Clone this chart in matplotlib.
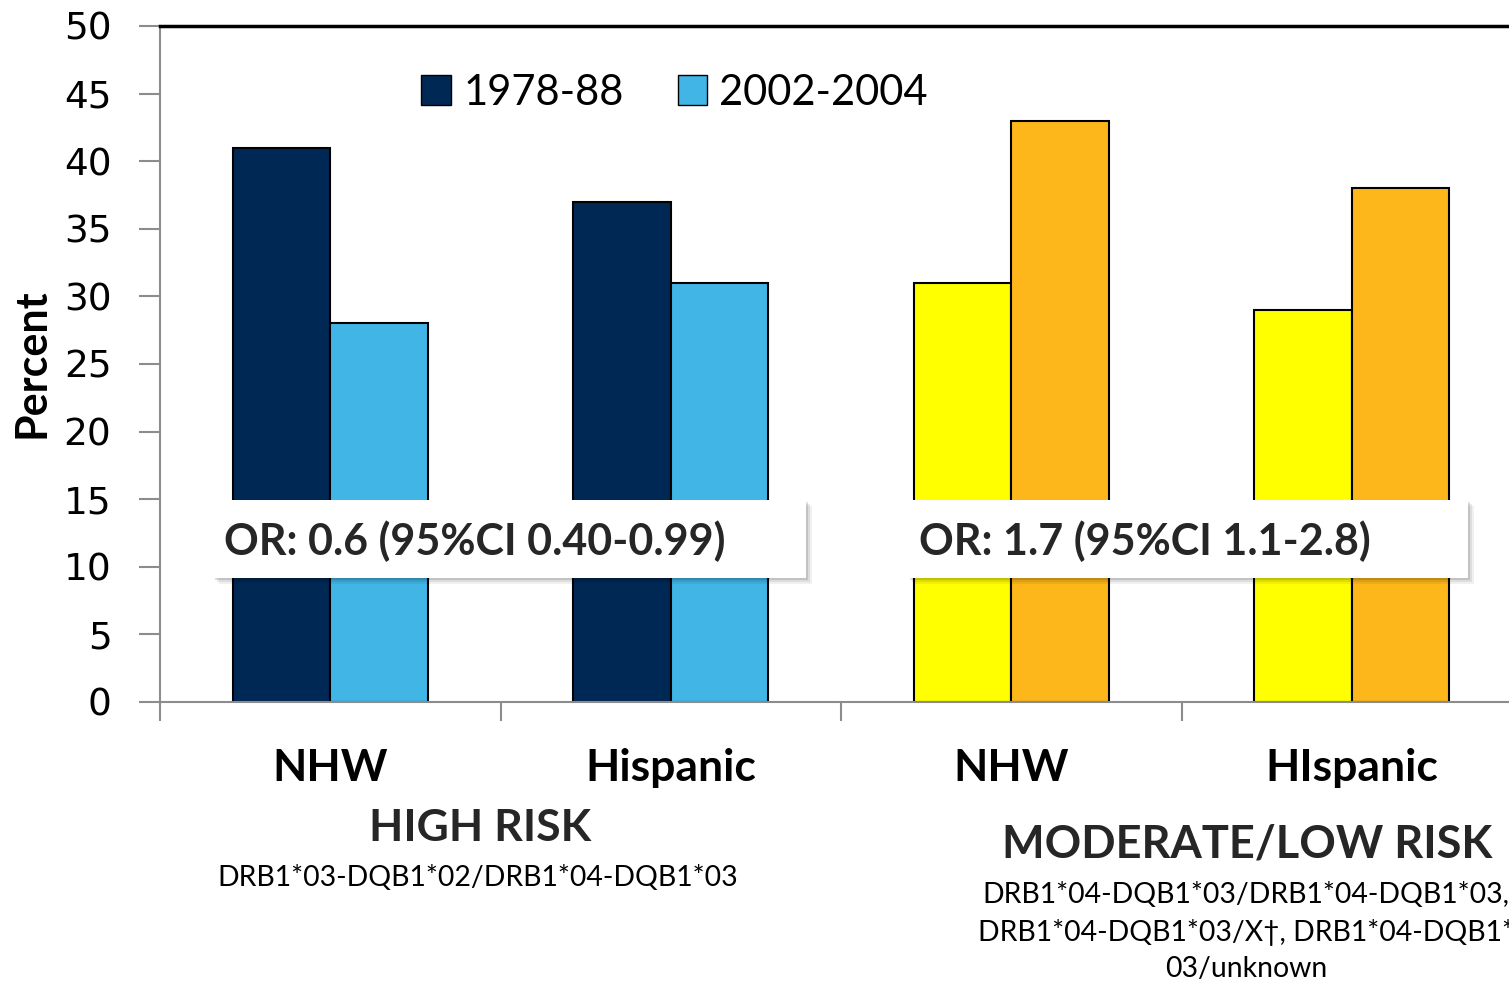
import matplotlib.pyplot as plt
import matplotlib.patches as mpatches
import numpy as np

groups = ["NHW", "Hispanic", "NHW", "HIspanic"]
early = [41, 37, 31, 29]      # 1978-88
late = [28, 31, 43, 38]       # 2002-2004
legend_labels = ["1978-88", "2002-2004"]
or_text = ["OR: 0.6 (95%CI 0.40-0.99)", "OR: 1.7 (95%CI 1.1-2.8)"]
risk_titles = ["HIGH RISK", "MODERATE/LOW RISK"]
risk_genotypes = ["DRB1*03-DQB1*02/DRB1*04-DQB1*03",
                  "DRB1*04-DQB1*03/DRB1*04-DQB1*03,\nDRB1*04-DQB1*03/X\u2020, DRB1*04-DQB1*\n03/unknown"]

navy = "#002855"
sky = "#41B6E6"
yellow = "#FFFF00"
orange = "#FDB71A"
txt = "#262626"

W, H = 1509, 985
fig = plt.figure(figsize=(W / 100, H / 100), dpi=100)
ax = fig.add_axes([160 / W, (H - 702) / H, 1 - 160 / W, (702 - 26) / H])

x = np.arange(len(groups))
bw = 0.286
c1 = [navy, navy, yellow, yellow]
c2 = [sky, sky, orange, orange]
ax.bar(x - bw / 2, early, bw, color=c1, edgecolor="black", linewidth=1.5)
ax.bar(x + bw / 2, late, bw, color=c2, edgecolor="black", linewidth=1.5)

ax.set_ylim(0, 50)
ax.set_xlim(-0.5, 3.5 - 13 / 340.5)
ax.set_yticks(range(0, 51, 5))
ax.tick_params(axis="y", length=15, width=1.5, color="#8c8c8c", pad=20,
               labelsize=27)

ax.set_xticks(x)
ax.set_xticklabels(groups, fontsize=32, fontweight="bold", family="Lato", color="black")
ax.tick_params(axis="x", length=0, pad=33)
ax.set_xticks([-0.5, 0.5, 1.5, 2.5], minor=True)
ax.tick_params(axis="x", which="minor", length=14, width=1.5, color="#8c8c8c")

ax.spines["left"].set_color("#8c8c8c")
ax.spines["left"].set_linewidth(1.5)
ax.spines["bottom"].set_color("#8c8c8c")
ax.spines["bottom"].set_linewidth(1.5)
ax.spines["top"].set_color("black")
ax.spines["top"].set_linewidth(2.5)
ax.spines["right"].set_visible(False)

ax.set_ylabel("Percent", fontsize=31, fontweight="bold", family="Lato", va="center")
ax.yaxis.set_label_coords((32 - 160) / 1349, (702 - 363) / 676)

# legend
handles = [mpatches.Patch(facecolor=navy, edgecolor="black"),
           mpatches.Patch(facecolor=sky, edgecolor="black")]
ax.legend(handles, legend_labels, loc="upper left", bbox_to_anchor=(0.166, 0.985),
          ncol=2, frameon=False, prop={"family": "Lato", "size": 30},
          handlelength=0.7, handleheight=0.7, handletextpad=0.3, columnspacing=1.3)

# odds ratio boxes with soft shadow
for (x0, x1), label in zip([(213, 806), (908, 1468)], or_text):
    y0, y1 = 500, 578
    for k, a in [(6, 0.06), (4, 0.08), (2, 0.12)]:
        fig.patches.append(mpatches.Rectangle(((x0 + k) / W, (H - y1 - k) / H),
                                              (x1 - x0) / W, (y1 - y0) / H,
                                              transform=fig.transFigure, facecolor="black",
                                              alpha=a, edgecolor="none", zorder=5))
    fig.patches.append(mpatches.Rectangle((x0 / W, (H - y1) / H), (x1 - x0) / W, (y1 - y0) / H,
                                          transform=fig.transFigure, facecolor="white",
                                          edgecolor="none", zorder=6))
    fig.text((x0 + 11) / W, (H - 541) / H, label, fontsize=31, fontweight="bold",
             family="Lato", color=txt, va="center", ha="left", zorder=7)

# risk group captions
fig.text(480 / W, (H - 828) / H, risk_titles[0], fontsize=32, fontweight="bold",
         family="Lato", color=txt, ha="center", va="center")
fig.text(478 / W, (H - 878) / H, risk_genotypes[0], fontsize=20.4, family="Lato",
         color="black", ha="center", va="center")
fig.text(1247 / W, (H - 845) / H, risk_titles[1], fontsize=32.5, fontweight="bold",
         family="Lato", color=txt, ha="center", va="center")
fig.text(1246 / W, (H - 932) / H, risk_genotypes[1], fontsize=20.4, family="Lato",
         color="black", ha="center", va="center", linespacing=1.48)

fig.savefig("out.png", dpi=100)
